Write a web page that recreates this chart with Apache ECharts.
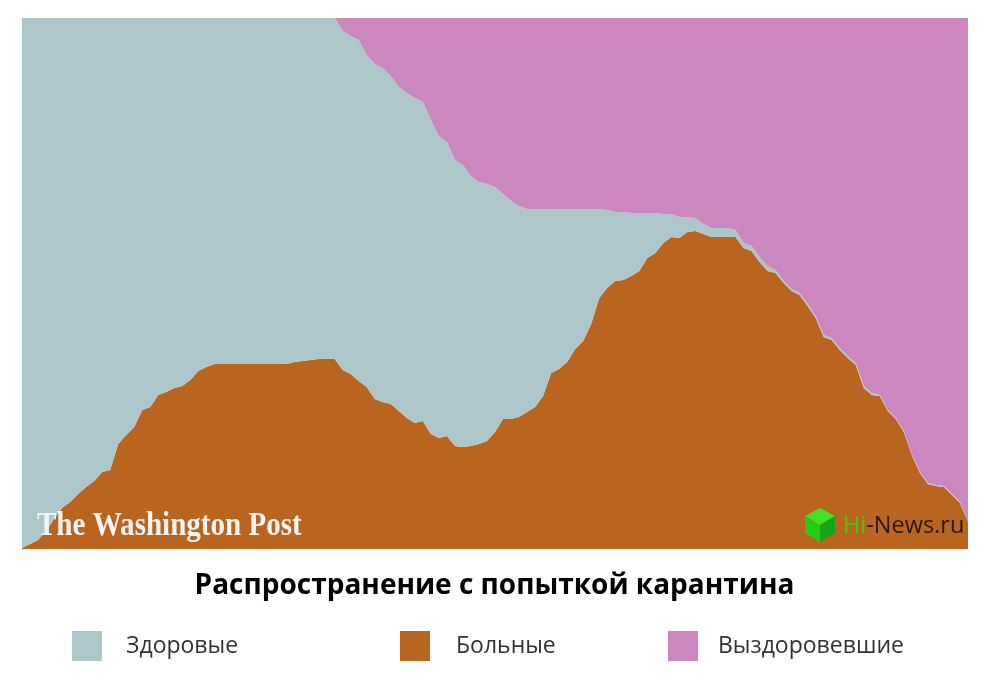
<!DOCTYPE html>
<html><head><meta charset="utf-8">
<style>html,body{margin:0;padding:0;background:#fff}#c{width:989px;height:685px}</style>
<script src="https://cdn.jsdelivr.net/npm/echarts@6/dist/echarts.min.js"></script>
</head><body><div id="c"></div>
<script>
const titleText = 'Распространение с попыткой карантина';
const nameHealthy = 'Здоровые', nameSick = 'Больные', nameRecovered = 'Выздоровевшие';
const timeSteps = Array.from({length:119},(_,i)=>String(i));
const sick = [1,5,9,18,30,41,47,55,62,68,77,79,105,114,122,139,142,154,157,161,163,169,178,182,185,
185,185,185,185,185,185,185,185,185,187,188,189,190,190,190,
179,175,168,162,150,147,145,138,131,126,128,115,111,113,103,102,103,105,108,117,130,130,132,137,142,153,176,180,187,200,208,225,251,261,268,269,273,278,291,296,306,312,311,317,318,315,312,312,312,312,
301,298,287,278,276,266,258,254,243,231,212,209,199,191,184,161,154,153,138,130,117,94,76,65,63,62,54,46,27];
const healthy = [530,526,522,513,501,490,484,476,469,463,454,452,426,417,409,392,389,377,374,370,368,362,353,349,346,
346,346,346,346,346,346,346,346,346,344,343,342,341,341,341,
339,338,341,332,335,334,328,324,325,325,319,314,302,294,286,282,270,262,257,245,225,218,211,203,198,187,164,160,153,140,132,115,89,78,69,68,63,58,45,40,29,23,21,15,13,10,9,9,9,7,
5,5,5,5,3,2,2,2,2,2,2,2,2,2,2,2,2,1,1,1,1,1,1,1,1,1,1,1,0];
const recovered = [0,0,0,0,0,0,0,0,0,0,0,0,0,0,0,0,0,0,0,0,0,0,0,0,0,
0,0,0,0,0,0,0,0,0,0,0,0,0,0,0,
13,18,22,37,46,50,58,69,75,80,84,102,118,124,142,147,158,164,166,169,176,183,188,191,191,191,191,191,191,191,191,191,191,192,194,194,195,195,195,195,196,196,199,199,200,206,210,210,210,212,
225,228,239,248,252,263,271,275,286,298,317,320,330,338,345,368,375,377,392,400,413,436,454,465,467,468,476,484,504];
const colHealthy='#adc6ca', colSick='#ba651f', colRecovered='#ca88bf';

const chart = echarts.init(document.getElementById('c'),null,{renderer:'canvas'});
const area = (name,data,color)=>({name,type:'line',stack:'all',data,symbol:'none',showSymbol:false,
  lineStyle:{width:0},itemStyle:{color},areaStyle:{color,opacity:1},animation:false});
const legendAt = (name,left,gap)=>({data:[name],left,top:631,padding:0,itemWidth:30,itemHeight:30,icon:'rect',
  textStyle:{fontFamily:'Open Sans',fontSize:23,color:'#333',padding:[0,0,2,gap]}});
chart.setOption({
  animation:false,
  backgroundColor:'#fff',
  title:{text:titleText,left:'center',top:572,padding:0,
    textStyle:{fontFamily:'Open Sans',fontWeight:'bold',fontSize:28,color:'#000'}},
  legend:[legendAt(nameHealthy,72,19),legendAt(nameSick,400,21),legendAt(nameRecovered,668,15)],
  grid:{left:22,top:18,width:946,height:531},
  xAxis:{type:'category',data:timeSteps,boundaryGap:false,show:false},
  yAxis:{type:'value',min:0,max:531,show:false},
  series:[area(nameSick,sick,colSick),area(nameHealthy,healthy,colHealthy),area(nameRecovered,recovered,colRecovered)],
  graphic:[
    {type:'text',x:37,y:510,scaleX:0.88,z:50,style:{text:'The Washington Post',fill:'#f4f4f4',
      font:'bold 33px "Liberation Serif"',shadowColor:'rgba(0,0,0,0.6)',shadowBlur:2,shadowOffsetX:1,shadowOffsetY:1}},
    {type:'polygon',z:50,shape:{points:[[820,508],[835,516],[820,525],[805,516]]},style:{fill:'#45df25'}},
    {type:'polygon',z:50,shape:{points:[[805,516],[820,525],[820,542],[805,533]]},style:{fill:'#25cc12'}},
    {type:'polygon',z:50,shape:{points:[[835,516],[820,525],[820,542],[835,533]]},style:{fill:'#17a31a'}},
    {type:'text',left:843,top:514,z:50,style:{text:'{a|Hi}{b|-News.ru}',
      rich:{a:{fill:'#3fcb12',font:'23.5px "Open Sans"'},b:{fill:'#2b1706',font:'23.5px "Open Sans"'}}}}
  ]
});
</script></body></html>
